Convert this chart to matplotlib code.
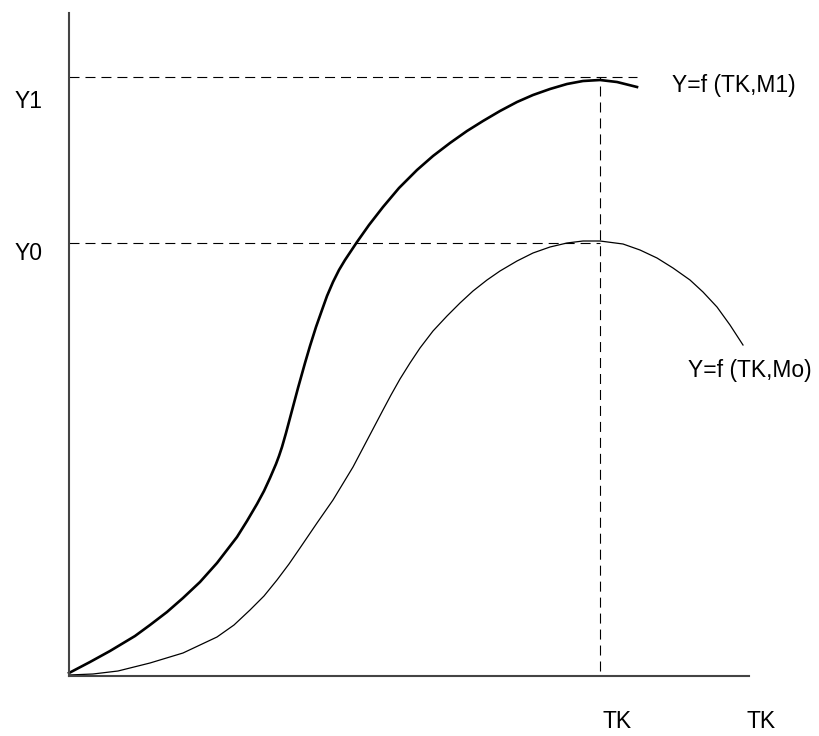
import matplotlib.pyplot as plt

plt.rcParams['font.family'] = ['Liberation Sans', 'DejaVu Sans']
plt.rcParams['lines.scale_dashes'] = False

# curve Y=f(TK,M1) (thick)
m1_x = [0, 21, 41, 66, 81, 98, 114, 131, 148, 168, 178, 188, 195, 201, 207, 210, 213,
        217, 221, 225, 229, 236, 241, 247, 253, 258, 264, 270, 276, 282, 288, 300, 314,
        330, 348, 364, 381, 398, 414, 431, 448, 464, 481, 498, 514, 531, 548, 568]
m1_y = [3, 14, 25, 40, 51, 64, 78, 94, 113, 139, 155, 172, 185, 198, 212, 220, 229,
        243, 258, 273, 288, 313, 330, 349, 366, 380, 394, 406, 416, 425, 434, 451, 469,
        488, 506, 520, 533, 545, 555, 565, 574, 581, 587, 592, 595, 596, 594, 589]

# curve Y=f(TK,Mo) (thin)
mo_x = [0, 24, 49, 81, 114, 148, 165, 181, 195, 208, 220, 231, 248, 264, 284, 304, 314,
        322, 331, 341, 351, 364, 378, 391, 404, 418, 431, 448, 464, 481, 498, 514, 531,
        554, 571, 588, 604, 621, 634, 648, 661, 674]
mo_y = [1, 2, 5, 13, 23, 39, 51, 66, 80, 96, 112, 128, 153, 176, 209, 247, 266,
        281, 297, 313, 328, 345, 360, 373, 385, 396, 405, 415, 423, 429, 433, 435, 435,
        432, 426, 418, 408, 396, 384, 369, 351, 331]

y1_level = 599
y0_level = 433
tk_level = 531

fig = plt.figure(figsize=(8.2, 7.36), dpi=100)
ax = fig.add_axes([0, 0, 1, 1])
ax.set_xlim(-69, 751)
ax.set_ylim(-60, 676)

# axes lines
for s in ['top', 'right']:
    ax.spines[s].set_visible(False)
ax.spines['left'].set_position(('data', 0))
ax.spines['bottom'].set_position(('data', 0))
ax.spines['left'].set_bounds(0, 663)
ax.spines['bottom'].set_bounds(0, 680)
for s in ['left', 'bottom']:
    ax.spines[s].set_color('#444444')
    ax.spines[s].set_linewidth(1.5)
ax.set_xticks([])
ax.set_yticks([])

# guide lines
dash = dict(color='black', lw=0.8, dashes=(7.2, 4.3))
ax.plot([0, 568], [y1_level, y1_level], **dash)
ax.plot([0, tk_level], [y0_level, y0_level], **dash)
ax.plot([tk_level, tk_level], [5, y1_level], **dash)

# curves
ax.plot(m1_x, m1_y, color='black', lw=1.9, solid_joinstyle='round')
ax.plot(mo_x, mo_y, color='black', lw=0.9, solid_joinstyle='round')

fs = 16.5
ax.text(-54, 568, 'Y1', fontsize=fs, va='baseline')
ax.text(-54, 416, 'Y0', fontsize=fs, va='baseline')
ax.text(603, 584, 'Y=f (TK,M1)', fontsize=fs, va='baseline')
ax.text(619, 299, 'Y=f (TK,Mo)', fontsize=fs, va='baseline')
ax.text(534, -52, 'TK', fontsize=fs, va='baseline')
ax.text(678, -52, 'TK', fontsize=fs, va='baseline')

plt.savefig('out.png', dpi=100)
